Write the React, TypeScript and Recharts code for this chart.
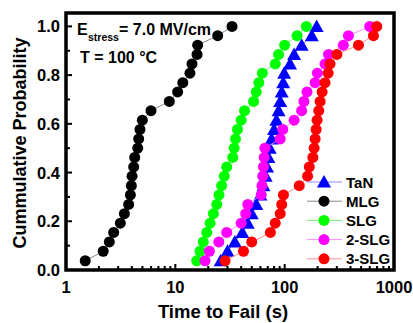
import React from 'react';
import { ScatterChart, Scatter, XAxis, YAxis, ReferenceArea } from 'recharts';

// cumulative probability (rank / 26), shared by all five samples
const PROB = [
  0.038, 0.077, 0.115, 0.154, 0.192, 0.231, 0.269, 0.308, 0.346, 0.385, 0.423, 0.462, 0.5,
  0.538, 0.577, 0.615, 0.654, 0.692, 0.731, 0.769, 0.808, 0.846, 0.885, 0.923, 0.962, 1.0,
];

// time to fail (s), sorted
const TAN = [26, 30, 35, 41, 46, 50, 55, 60, 64, 67, 69, 71, 73, 76, 80, 84, 88, 91, 94, 97, 99, 112, 122, 143, 177, 196];
const MLG = [1.5, 2.19, 2.49, 2.73, 3.14, 3.42, 3.74, 3.88, 3.96, 4.02, 4.16, 4.25, 4.53, 4.62, 4.75, 4.99, 5.99, 8.81, 10.5, 11.7, 13.6, 14.2, 15.8, 16.0, 24.4, 33.0];
const SLG = [15.7, 16.8, 18.0, 19.4, 20.8, 22.3, 23.9, 25.1, 26.5, 28.0, 29.5, 33.5, 34.5, 35.5, 37, 40, 43, 52, 55, 58, 62.5, 82, 88, 100, 130, 158];
const SLG2 = [18.7, 20.5, 25, 29.5, 40, 44, 46, 61, 62, 63, 64, 65, 66, 91, 96, 122, 143, 150, 160, 190, 199, 234, 252, 344, 383, 600];
const SLG3 = [28.5, 42, 50, 74, 82, 91, 94, 97.5, 136, 162, 168, 181, 186, 190, 194, 198, 205, 211, 220, 234, 250, 260, 300, 473, 649, 695];

const X_TICKS = [
  1, 2, 3, 4, 5, 6, 7, 8, 9, 10, 20, 30, 40, 50, 60, 70, 80, 90,
  100, 200, 300, 400, 500, 600, 700, 800, 900, 1000,
];
const X_LABELS = [1, 10, 100, 1000];
const Y_TICKS = [0, 0.1, 0.2, 0.3, 0.4, 0.5, 0.6, 0.7, 0.8, 0.9, 1.0];
const Y_LABELS = [0, 0.2, 0.4, 0.6, 0.8, 1.0];

const FONT = '"Liberation Sans", Arial, sans-serif';

const SERIES = [
  { name: 'TaN', times: TAN, color: '#0000ff', line: '#8c8cff', marker: 'triangle' },
  { name: 'MLG', times: MLG, color: '#000000', line: '#8a8a8a', marker: 'circle' },
  { name: 'SLG', times: SLG, color: '#00ff00', line: '#6cf06c', marker: 'circle' },
  { name: '2-SLG', times: SLG2, color: '#ff00ff', line: '#ff8cff', marker: 'circle' },
  { name: '3-SLG', times: SLG3, color: '#ff0000', line: '#ff9090', marker: 'circle' },
];

const Marker = ({ cx, cy, fill, kind }: any) => {
  if (cx == null || cy == null) return null;
  if (kind === 'triangle') {
    return <polygon points={`${cx},${cy - 7} ${cx - 7},${cy + 5.5} ${cx + 7},${cy + 5.5}`} fill={fill} />;
  }
  return <circle cx={cx} cy={cy} r={5.5} fill={fill} />;
};

const XTick = ({ x, y, payload }: any) => {
  const major = X_LABELS.includes(payload.value);
  return (
    <g>
      <line x1={x} x2={x} y1={y} y2={y - (major ? 6 : 4)} stroke="#000" strokeWidth={2} />
      {major && (
        <text x={x} y={y + 23} textAnchor="middle" fontFamily={FONT} fontWeight="bold" fontSize={16.5} fill="#000">
          {payload.value}
        </text>
      )}
    </g>
  );
};

const YTick = ({ x, y, payload }: any) => {
  const major = Y_LABELS.some((v) => Math.abs(v - payload.value) < 1e-6);
  return (
    <g>
      <line x1={x} x2={x + (major ? 6 : 4)} y1={y} y2={y} stroke="#000" strokeWidth={2} />
      {major && (
        <text x={x - 6} y={y + 6} textAnchor="end" fontFamily={FONT} fontWeight="bold" fontSize={16.5} fill="#000">
          {payload.value.toFixed(1)}
        </text>
      )}
    </g>
  );
};

const App = () => {
  return (
    <div style={{ position: 'absolute', left: 0, top: 0, width: 413, height: 323, background: '#fff' }}>
      <ScatterChart width={413} height={323} margin={{ top: 13, right: 19, bottom: 0, left: 0 }}>
        <XAxis
          type="number"
          dataKey="x"
          scale="log"
          domain={[1, 1000]}
          ticks={X_TICKS}
          interval={0}
          axisLine={false}
          tickLine={false}
          tickSize={0}
          tickMargin={0}
          height={53}
          tick={<XTick />}
          allowDataOverflow
        />
        <YAxis
          type="number"
          dataKey="y"
          domain={[0, 1.055]}
          ticks={Y_TICKS}
          interval={0}
          axisLine={false}
          tickLine={false}
          tickSize={0}
          tickMargin={0}
          width={66}
          tick={<YTick />}
          allowDataOverflow
        />
        {SERIES.map((s) => (
          <Scatter
            key={s.name}
            name={s.name}
            data={s.times.map((t, i) => ({ x: t, y: PROB[i] }))}
            fill={s.color}
            line={{ stroke: s.line, strokeWidth: 1 }}
            lineType="joint"
            shape={(p: any) => <Marker {...p} fill={s.color} kind={s.marker} />}
            isAnimationActive={false}
          />
        ))}
        <ReferenceArea x1={1} x2={1000} y1={0} y2={1.055} fill="none" stroke="#000" strokeWidth={3.5} ifOverflow="visible" />
      </ScatterChart>

      <svg width={413} height={323} style={{ position: 'absolute', left: 0, top: 0, pointerEvents: 'none' }}>
        <g fontFamily={FONT} fontWeight="bold" fill="#000">
          <text x={77} y={35} fontSize={16}>E</text>
          <text x={88} y={41} fontSize={10.5}>stress</text>
          <text x={119} y={35} fontSize={16}>= 7.0 MV/cm</text>
          <text x={80} y={63} fontSize={16}>T = 100 °C</text>
          <text x={223} y={318} fontSize={18.5} textAnchor="middle">Time to Fail (s)</text>
          <text x={26} y={143} fontSize={18} textAnchor="middle" transform="rotate(-90 26 143)">
            Cummulative Probability
          </text>
        </g>
        {SERIES.map((s, i) => {
          const y = 182 + i * 19.2;
          return (
            <g key={s.name}>
              <line x1={307} x2={342} y1={y} y2={y} stroke={s.line} strokeWidth={1} />
              <Marker cx={324} cy={y} fill={s.color} kind={s.marker} />
              <text x={346} y={y + 5.5} fontFamily={FONT} fontWeight="bold" fontSize={15} fill="#000">
                {s.name}
              </text>
            </g>
          );
        })}
      </svg>
    </div>
  );
};

export default App;
